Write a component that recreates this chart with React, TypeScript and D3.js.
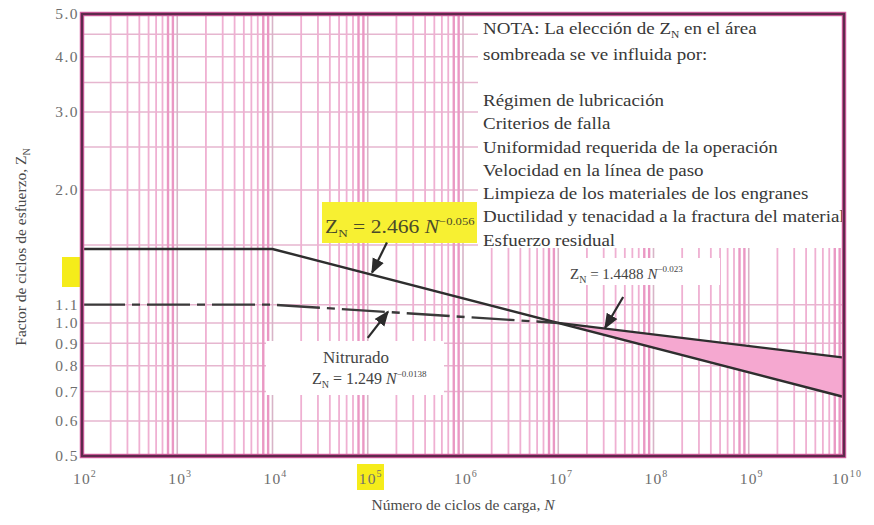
import React from "react";
import * as d3 from "d3";

// decades shown on the N axis (exponents of 10)
const decades = [2, 3, 4, 5, 6, 7, 8, 9, 10];
const yTickLabels = [0.5, 0.6, 0.7, 0.8, 0.9, 1.0, 1.1, 2.0, 3.0, 4.0, 5.0];
const hGrid = [0.6, 0.7, 0.8, 0.9, 1.0, 1.1, 1.5, 2.0, 2.5, 3.0, 3.5, 4.0, 4.5];
const minorMult = [2, 3, 4, 5, 6, 7, 8, 9];

// curves (straight lines in log-log space)
const upperN = [1e2, 1e4, 1e10];
const upperZ = [1.47, 1.47, 0.68];
const nitridedN = [1e2, 1e4, 1e7];
const nitridedZ = [1.1, 1.1, 1.0];
const bandN = [1e7, 1e10];
const bandHi = [1.0, 0.835];
const bandLo = [1.0, 0.68];

const noteLines = [
  "Régimen de lubricación",
  "Criterios de falla",
  "Uniformidad requerida de la operación",
  "Velocidad en la línea de paso",
  "Limpieza de los materiales de los engranes",
  "Ductilidad y tenacidad a la fractura del material",
  "Esfuerzo residual",
];

// arrows: [tail N, tail Z, tip N, tip Z]
const arrows = [
  [1.59e5, 1.52, 1.11e5, 1.3],
  [1.0e5, 0.925, 1.63e5, 1.06],
  [4.8e7, 1.145, 3.1e7, 0.975],
];

const W = 874;
const H = 525;
const margin = { top: 14, right: 30, bottom: 69, left: 82 };
const serif = "'Liberation Serif', 'Times New Roman', Times, serif";

export default function App() {
  const x = d3
    .scaleLog()
    .domain([1e2, 1e10])
    .range([margin.left, W - margin.right]);
  const y = d3
    .scaleLog()
    .domain([0.5, 5])
    .range([H - margin.bottom, margin.top]);

  const line = d3
    .line<[number, number]>()
    .x((d) => x(d[0]))
    .y((d) => y(d[1]));

  const area = d3
    .area<number>()
    .x((d) => x(bandN[d]))
    .y0((d) => y(bandLo[d]))
    .y1((d) => y(bandHi[d]));

  const vLines: number[] = [];
  decades.forEach((e) => {
    if (e < 10) minorMult.forEach((m) => vLines.push(m * Math.pow(10, e)));
  });

  const x0 = x.range()[0];
  const x1 = x.range()[1];
  const y0 = y.range()[1];
  const y1 = y.range()[0];
  const ts = { fontFamily: serif };

  return (
    <svg
      width={W}
      height={H}
      style={{ position: "absolute", left: 0, top: 0, background: "#fff", fontFamily: serif }}
    >
      <defs>
        <marker
          id="arr"
          viewBox="0 0 10 10"
          refX="9"
          refY="5"
          markerWidth="7"
          markerHeight="7"
          orient="auto"
        >
          <path d="M0,1 L10,5 L0,9 z" fill="#2b2b2b" />
        </marker>
      </defs>

      {/* grid */}
      <g>
        {hGrid.map((v) => (
          <line
            key={"h" + v}
            x1={x0}
            x2={x1}
            y1={y(v)}
            y2={y(v)}
            stroke="#e6b6cf"
            strokeWidth={1.5}
          />
        ))}
        {vLines.map((v, i) => (
          <line
            key={"v" + i}
            x1={x(v)}
            x2={x(v)}
            y1={y0}
            y2={y1}
            stroke={i % 8 > 5 ? "#ea98c4" : "#efb0d2"}
            strokeWidth={i % 8 > 5 ? 2.4 : 1.8}
          />
        ))}
        {decades.map((e) => (
          <line
            key={"d" + e}
            x1={x(Math.pow(10, e))}
            x2={x(Math.pow(10, e))}
            y1={y0}
            y2={y1}
            stroke="#d8b4c7"
            strokeWidth={1.6}
          />
        ))}
      </g>

      {/* white backgrounds for notes */}
      <rect x={478} y={y0} width={x1 - 478} height={248 - y0} fill="#fff" />
      <rect x={565} y={258} width={155} height={27} fill="#fff" />
      <rect x={266} y={341} width={178} height={54} fill="#fff" />

      {/* shaded band */}
      <path d={area([0, 1]) || ""} fill="#f5a8d0" />

      {/* curves */}
      <path
        d={line(upperN.map((n, i) => [n, upperZ[i]])) || ""}
        fill="none"
        stroke="#2e2e2e"
        strokeWidth={2.4}
      />
      <path
        d={line(nitridedN.map((n, i) => [n, nitridedZ[i]])) || ""}
        fill="none"
        stroke="#3a3a3a"
        strokeWidth={2.4}
        strokeDasharray="43 7 8 7"
      />
      <path
        d={line(bandN.map((n, i) => [n, bandHi[i]])) || ""}
        fill="none"
        stroke="#2e2e2e"
        strokeWidth={2.2}
      />

      {/* yellow highlights */}
      <rect x={62} y={257} width={18} height={30} fill="#f5ec1a" />
      <rect x={357} y={464} width={27} height={26} fill="#f5ec1a" />
      <rect x={322} y={202} width={155} height={41} fill="#f7f032" />

      {/* arrows */}
      {arrows.map((a, i) => (
        <line
          key={"a" + i}
          x1={x(a[0])}
          y1={y(a[1])}
          x2={x(a[2])}
          y2={y(a[3])}
          stroke="#2b2b2b"
          strokeWidth={2.2}
          markerEnd="url(#arr)"
        />
      ))}

      {/* annotations */}
      <g transform="translate(325,233) scale(1.2,1)">
        <text x={0} y={0} fontSize={18} fill="#4a4a2a" style={ts}>
          Z<tspan fontSize={11} dy={4}>N</tspan>
          <tspan dy={-4}> = 2.466 </tspan>
          <tspan fontStyle="italic">N</tspan>
          <tspan fontSize={10.5} dy={-8}>−0.056</tspan>
        </text>
      </g>
      <text x={570} y={279} fontSize={15} fill="#444" style={ts}>
        Z<tspan fontSize={10} dy={4}>N</tspan>
        <tspan dy={-4}> = 1.4488 </tspan>
        <tspan fontStyle="italic">N</tspan>
        <tspan fontSize={9} dy={-7}>−0.023</tspan>
      </text>
      <text x={356} y={363} fontSize={17} fill="#444" textAnchor="middle" style={ts}>
        Nitrurado
      </text>
      <text x={312} y={384} fontSize={16} fill="#444" style={ts}>
        Z<tspan fontSize={10} dy={4}>N</tspan>
        <tspan dy={-4}> = 1.249 </tspan>
        <tspan fontStyle="italic">N</tspan>
        <tspan fontSize={9} dy={-7}>−0.0138</tspan>
      </text>

      <g transform="translate(483,0) scale(1.15,1)" fontSize={16.5} fill="#383838" style={ts}>
        <text x={0} y={34}>
          NOTA: La elección de Z<tspan fontSize={10} dy={4}>N</tspan>
          <tspan dy={-4}> en el área</tspan>
        </text>
        <text x={0} y={60}>
          sombreada se ve influida por:
        </text>
        {noteLines.map((t, i) => (
          <text key={t} x={0} y={106 + i * 23.3}>
            {t}
          </text>
        ))}
      </g>

      {/* frame */}
      <rect
        x={x0}
        y={y0}
        width={x1 - x0}
        height={y1 - y0}
        fill="none"
        stroke="#dc62a6"
        strokeWidth={4.5}
      />
      <rect
        x={x0}
        y={y0}
        width={x1 - x0}
        height={y1 - y0}
        fill="none"
        stroke="#5e2a4c"
        strokeWidth={2.4}
      />

      {/* y ticks */}
      <g fontSize={15.5} fill="#6e6e6e" textAnchor="end" letterSpacing={1.5} style={ts}>
        {yTickLabels.map((v) => (
          <text key={"y" + v} x={x0 - 3} y={y(v)} dy="0.35em">
            {v.toFixed(1)}
          </text>
        ))}
      </g>

      {/* x ticks */}
      <g fontSize={15.5} fill="#6e6e6e" letterSpacing={1.2} style={ts}>
        {decades.map((e) => (
          <text key={"x" + e} x={x(Math.pow(10, e)) + 3} y={484} textAnchor="middle">
            10<tspan fontSize={10} dy={-7}>{e}</tspan>
          </text>
        ))}
      </g>

      {/* axis titles */}
      <text x={463} y={510} fontSize={15.5} fill="#4a4a4a" textAnchor="middle" style={ts}>
        Número de ciclos de carga, <tspan fontStyle="italic">N</tspan>
      </text>
      <text
        transform={`translate(26,247) rotate(-90)`}
        fontSize={15.5}
        fill="#4a4a4a"
        textAnchor="middle"
        style={ts}
      >
        Factor de ciclos de esfuerzo, Z<tspan fontSize={10} dy={4}>N</tspan>
      </text>
    </svg>
  );
}
